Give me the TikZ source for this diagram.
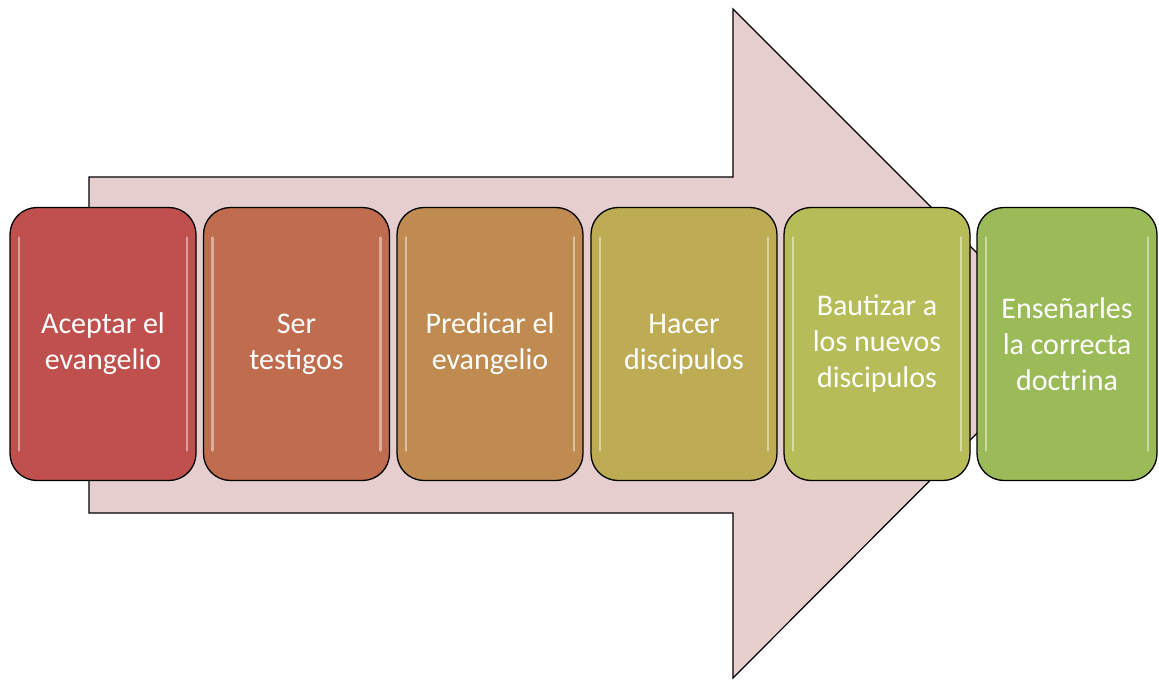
\documentclass[tikz,border=0pt]{standalone}
\usepackage{fontspec}
\setmainfont{Carlito}
\definecolor{flecha}{RGB}{230,206,206}
\definecolor{pasoA}{RGB}{192,80,77}
\definecolor{pasoB}{RGB}{192,108,78}
\definecolor{pasoC}{RGB}{191,139,81}
\definecolor{pasoD}{RGB}{190,172,85}
\definecolor{pasoE}{RGB}{181,188,88}
\definecolor{pasoF}{RGB}{155,187,89}
\begin{document}
\begin{tikzpicture}[x=1pt,y=-1pt]
      \tikzset{paso/.style={draw, rounded corners=27pt, minimum width=186pt, minimum height=273pt, align=center, inner sep=0pt, text=white, line width=1.3pt, font=\fontsize{30}{36}\selectfont,
        path picture={\draw[white, opacity=.45, line width=2.5pt, line cap=round] ([xshift=9pt,yshift=-30pt]path picture bounding box.north west) -- ([xshift=9pt,yshift=30pt]path picture bounding box.south west);
          \draw[white, opacity=.45, line width=2.5pt, line cap=round] ([xshift=-9pt,yshift=-30pt]path picture bounding box.north east) -- ([xshift=-9pt,yshift=30pt]path picture bounding box.south east);}}}
      \useasboundingbox (0,0) rectangle (1159,680);
%% Flecha
      \draw[fill=flecha, line width=1.2pt] (89,177) -- (733,177) -- (733,9) -- (1067,343) -- (733,678) -- (733,513) -- (89,513) -- cycle;
%% Pasos
      \node[paso, fill=pasoA] (aceptar) at (103,344) {Aceptar el\\evangelio};
      \node[paso, fill=pasoB] (testigos) at (296.5,344) {Ser\\testigos};
      \node[paso, fill=pasoC] (predicar) at (490,344) {Predicar el\\evangelio};
      \node[paso, fill=pasoD] (hacer) at (684,344) {Hacer\\discipulos};
      \node[paso, fill=pasoE] (bautizar) at (877,344) {Bautizar a\\los nuevos\\discipulos};
      \node[paso, fill=pasoF, minimum width=180pt] (ensenar) at (1067,344) {Enseñarles\\la correcta\\doctrina};
\end{tikzpicture}
\end{document}
